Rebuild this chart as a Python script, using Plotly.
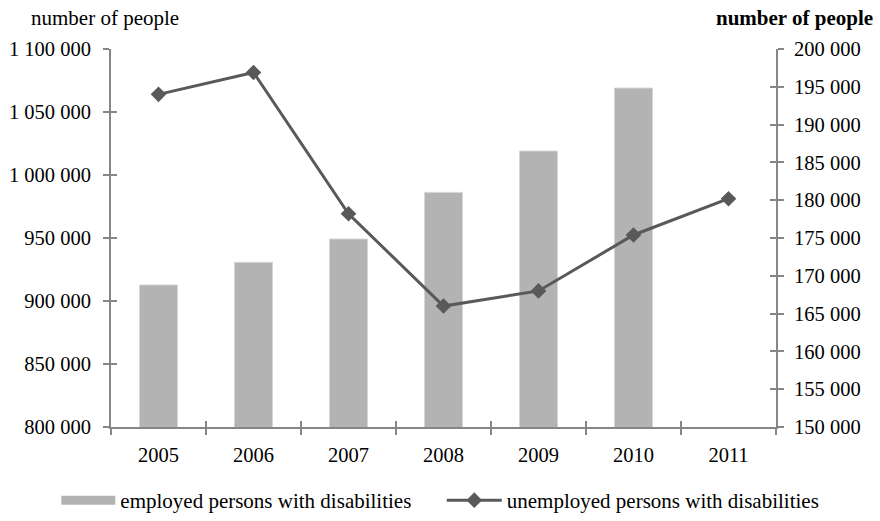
import plotly.graph_objects as go

years = ["2005", "2006", "2007", "2008", "2009", "2010", "2011"]
employed = [912700, 930700, 949200, 986200, 1019000, 1069000, None]
unemployed = [194000, 196900, 178200, 166000, 168000, 175400, 180200]

left_range = [800000, 1100000]
right_range = [150000, 200000]

FONT = "Liberation Serif, Times New Roman, serif"
AXIS_COLOR = "#868686"
BAR_COLOR = "#b3b3b3"
LINE_COLOR = "#595959"
n = len(years)
bounds = [i - 0.5 for i in range(n + 1)]

fig = go.Figure()

fig.add_trace(go.Bar(
    x=years, y=employed, name="employed persons with disabilities",
    marker=dict(color=BAR_COLOR, line=dict(color="#d6d6d6", width=1)),
    width=0.4, yaxis="y", legendgroup="emp", showlegend=False,
))
# wide swatch for the bar series in its own legend
fig.add_trace(go.Scatter(
    x=[None], y=[None], name="employed persons with disabilities",
    mode="lines", line=dict(color=BAR_COLOR, width=9),
    legendgroup="emp", legend="legend", hoverinfo="skip",
))
fig.add_trace(go.Scatter(
    x=years, y=unemployed, name="unemployed persons with disabilities",
    mode="lines+markers",
    line=dict(color=LINE_COLOR, width=3),
    marker=dict(symbol="diamond", size=12, color=LINE_COLOR),
    yaxis="y2", legend="legend2",
))

tick_font = dict(family=FONT, size=20.5, color="black")
legend_font = dict(family=FONT, size=21, color="black")
title_font = dict(family=FONT, size=21, color="black")

fig.update_layout(
    width=880, height=521,
    margin=dict(l=111, r=104, t=49, b=94, autoexpand=False),
    paper_bgcolor="white", plot_bgcolor="white",
    separators=". ",
    font=dict(family=FONT, size=20.5, color="black"),
    showlegend=True,
    legend=dict(orientation="h", xref="container", yref="container",
                x=0.064, xanchor="left", y=-0.01, yanchor="bottom",
                font=legend_font, itemwidth=54, bgcolor="rgba(0,0,0,0)"),
    legend2=dict(orientation="h", xref="container", yref="container",
                 x=0.502, xanchor="left", y=-0.01, yanchor="bottom",
                 font=legend_font, itemwidth=55, bgcolor="rgba(0,0,0,0)"),
    xaxis=dict(type="category", categoryarray=years, range=[-0.5, n - 0.5],
               showline=True, linecolor=AXIS_COLOR, linewidth=2,
               ticks="outside", tickson="boundaries", ticklen=6, tickwidth=2,
               tickcolor=AXIS_COLOR, tickfont=tick_font, showgrid=False,
               zeroline=False, ticklabelstandoff=8),
    xaxis2=dict(overlaying="x", range=[-0.5, n - 0.5], tickmode="array",
                tickvals=bounds, ticks="inside", ticklen=6, tickwidth=2,
                tickcolor=AXIS_COLOR, showticklabels=False, showline=False,
                showgrid=False, zeroline=False, anchor="y"),
    yaxis=dict(range=left_range, dtick=50000, tickformat=",d",
               showline=True, linecolor=AXIS_COLOR, linewidth=2,
               ticks="outside", ticklen=6, tickwidth=2, tickcolor=AXIS_COLOR,
               tickfont=tick_font, showgrid=False, zeroline=False,
               ticklabelstandoff=8),
    yaxis2=dict(range=right_range, dtick=5000, tickformat=",d", overlaying="y",
                side="right", showline=True, linecolor=AXIS_COLOR, linewidth=2,
                ticks="outside", ticklen=6, tickwidth=2, tickcolor=AXIS_COLOR,
                tickfont=tick_font, showgrid=False, zeroline=False,
                ticklabelstandoff=6),
    yaxis3=dict(range=left_range, dtick=50000, overlaying="y", side="left",
                ticks="inside", ticklen=6, tickwidth=2, tickcolor=AXIS_COLOR,
                showticklabels=False, showline=False, showgrid=False,
                zeroline=False, anchor="x"),
    yaxis4=dict(range=right_range, dtick=5000, overlaying="y", side="right",
                ticks="inside", ticklen=6, tickwidth=2, tickcolor=AXIS_COLOR,
                showticklabels=False, showline=False, showgrid=False,
                zeroline=False, anchor="x"),
)

# invisible traces so the tick-only overlay axes are rendered
fig.add_trace(go.Scatter(x=[0], y=[left_range[0]], xaxis="x2", yaxis="y3",
                         mode="markers", marker=dict(opacity=0),
                         showlegend=False, hoverinfo="skip"))
fig.add_trace(go.Scatter(x=[0], y=[right_range[0]], xaxis="x2", yaxis="y4",
                         mode="markers", marker=dict(opacity=0),
                         showlegend=False, hoverinfo="skip"))

fig.add_annotation(text="number of people", xref="paper", yref="paper",
                   x=0, xshift=-82, y=1.0, yshift=31, xanchor="left", yanchor="middle",
                   showarrow=False, font=title_font)
fig.add_annotation(text="<b>number of people</b>", xref="paper", yref="paper",
                   x=1.0, xshift=99, y=1.0, yshift=31, xanchor="right", yanchor="middle",
                   showarrow=False, font=title_font)

fig.write_html("out.html")
